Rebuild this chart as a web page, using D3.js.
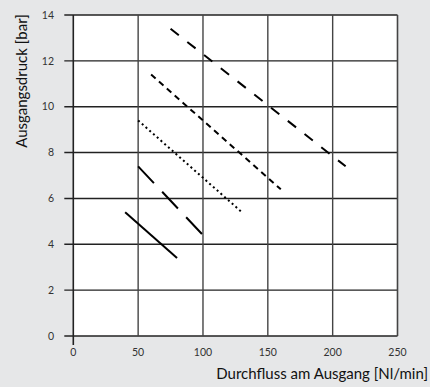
<!DOCTYPE html>
<html>
<head>
<meta charset="utf-8">
<script src="https://cdn.jsdelivr.net/npm/d3@7"></script>
<style>
  html, body { margin: 0; padding: 0; background: #e6e7e8; }
  svg { display: block; }
  text { font-family: Lato, "Open Sans", sans-serif; }
</style>
</head>
<body>
<svg id="chart" width="430" height="387"></svg>
<script>
// ---- data ----
const xTicks = [0, 50, 100, 150, 200, 250];
const yTicks = [0, 2, 4, 6, 8, 10, 12, 14];
const seriesNames = ["s1", "s2", "s3", "s4", "s5"];
const seriesStartX = [40, 50, 50, 60, 75];
const seriesStartY = [5.4, 7.4, 9.4, 11.4, 13.4];
const seriesEndX = [80, 100, 130, 160, 210];
const seriesEndY = [3.4, 4.4, 5.4, 6.4, 7.4];
const seriesDash = [null, "23,12", "2,3", "6,4.5", "10.5,10.8"];
const xTitle = "Durchfluss am Ausgang [Nl/min]";
const yTitle = "Ausgangsdruck [bar]";

(function () {
// ---- layout ----
const svg = d3.select("#chart");
const pL = 73.3, pR = 397.5, pT = 15, pB = 336;
const x = d3.scaleLinear().domain([0, 250]).range([pL, pR]);
const y = d3.scaleLinear().domain([0, 14]).range([pB, pT]);

// plot background
svg.append("rect").attr("x", pL).attr("y", pT)
  .attr("width", pR - pL).attr("height", pB - pT).attr("fill", "#fff");

const gridColor = "#222";
// horizontal grid (extending left as ticks)
svg.append("g").selectAll("line").data(yTicks).join("line")
  .attr("x1", pL - 9).attr("x2", pR)
  .attr("y1", d => y(d)).attr("y2", d => y(d))
  .attr("stroke", gridColor).attr("stroke-width", 1.4);
// vertical grid (extending down as ticks)
svg.append("g").selectAll("line").data(xTicks).join("line")
  .attr("x1", d => x(d)).attr("x2", d => x(d))
  .attr("y1", pT).attr("y2", d => (d === 0 ? pB + 9 : pB))
  .attr("stroke", d => (d === 0 ? gridColor : "#444")).attr("stroke-width", d => (d === 0 || d === 250) ? 1.6 : 1.4);

// tick labels
svg.append("g").selectAll("text").data(yTicks).join("text")
  .attr("x", 54).attr("y", d => y(d)).attr("dy", "0.35em")
  .attr("text-anchor", "end").attr("font-size", 10.5).attr("fill", "#333")
  .text(d => d);
svg.append("g").selectAll("text").data(xTicks).join("text")
  .attr("x", d => x(d)).attr("y", 356)
  .attr("text-anchor", "middle").attr("font-size", 10.5).attr("fill", "#333")
  .text(d => d);

// series lines
const line = d3.line().x(d => x(d[0])).y(d => y(d[1]));
const series = seriesNames.map((n, i) => ({
  name: n,
  pts: [[seriesStartX[i], seriesStartY[i]], [seriesEndX[i], seriesEndY[i]]],
  dash: seriesDash[i]
}));
svg.append("g").selectAll("path").data(series).join("path")
  .attr("d", d => line(d.pts))
  .attr("fill", "none").attr("stroke", "#000").attr("stroke-width", 2)
  .attr("stroke-dasharray", d => d.dash);

// titles
svg.append("text").attr("x", 428).attr("y", 379)
  .attr("text-anchor", "end").attr("font-size", 15).attr("fill", "#111")
  .text(xTitle);
svg.append("text").attr("transform", "translate(27,81) rotate(-90)")
  .attr("text-anchor", "middle").attr("font-size", 15).attr("fill", "#111")
  .text(yTitle);
})();
</script>
</body>
</html>
